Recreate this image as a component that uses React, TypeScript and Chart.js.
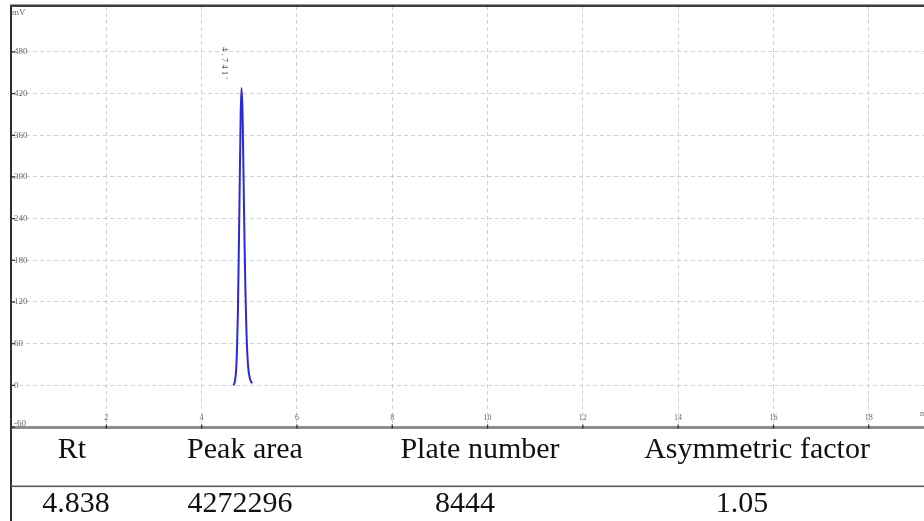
import React, { useEffect, useRef } from "react";
import { Chart, registerables } from "chart.js";

Chart.register(...registerables);

// ---- data ----
const retentionTimes = [4.67, 4.7, 4.72, 4.74, 4.76, 4.78, 4.8, 4.82, 4.838, 4.86, 4.88, 4.9, 4.92, 4.94, 4.96, 4.98, 5.01, 5.04, 5.06];
const signalMV = [0, 6, 18, 45, 100, 190, 290, 390, 428, 390, 300, 210, 135, 80, 45, 24, 11, 5, 3];
const xTickValues = [2, 4, 6, 8, 10, 12, 14, 16, 18];
const yTickValues = [-60, 0, 60, 120, 180, 240, 300, 360, 420, 480];
const yUnit = "mV";
const xUnit = "min";
const peakLabel = "4.741";
const peakLabelTime = 4.838;
const peakLabelValue = 428;
const tableHeaders = ["Rt", "Peak area", "Plate number", "Asymmetric factor"];
const tableValues = ["4.838", "4272296", "8444", "1.05"];
const headerCenters = [72, 245, 480, 757];
const valueCenters = [76, 240, 465, 742];

const X_MIN = 0;
const X_MAX = 19.16;
const Y_MIN = -60;
const Y_MAX = 546;

const decorPlugin = {
  id: "decor",
  afterDraw(chart: any) {
    const { ctx, chartArea: a, scales } = chart;
    const x = scales.x;
    const y = scales.y;
    const W = chart.width;
    const H = chart.height;
    ctx.save();

    // top frame
    ctx.fillStyle = "#3c3c3c";
    ctx.fillRect(a.left - 1, a.top - 1.5, W - a.left + 1, 2.5);

    // table lines
    ctx.fillStyle = "#2e2e2e";
    ctx.fillRect(a.left - 1, a.bottom, 2, H - a.bottom);
    ctx.fillStyle = "#5a5a5a";
    ctx.fillRect(a.left, 485.5, W - a.left, 1.6);

    // y tick labels and marks
    ctx.font = '9px "Liberation Serif"';
    ctx.textAlign = "left";
    ctx.textBaseline = "middle";
    yTickValues.forEach((v) => {
      const py = y.getPixelForValue(v);
      ctx.fillStyle = "#333";
      ctx.fillRect(a.left, py - 0.6, 4, 1.3);
      ctx.fillStyle = "#666";
      ctx.fillText(String(v), a.left + 3, py - (v === -60 ? 3 : 0));
    });
    ctx.fillStyle = "#666";
    ctx.fillText(yUnit, a.left + 1, a.top + 7);

    // x tick labels and marks
    ctx.textAlign = "center";
    ctx.textBaseline = "alphabetic";
    ctx.font = '8px "Liberation Serif"';
    xTickValues.forEach((v) => {
      const px = x.getPixelForValue(v);
      ctx.fillStyle = "#333";
      ctx.fillRect(px - 0.6, a.bottom - 2.5, 1.3, 4);
      ctx.fillStyle = "#666";
      ctx.fillText(String(v), px, a.bottom - 7);
    });
    ctx.textAlign = "left";
    ctx.fillText(xUnit, W - 4, a.bottom - 11);

    // peak label (rotated)
    const lx = x.getPixelForValue(peakLabelTime) - 17;
    const ly = y.getPixelForValue(peakLabelValue) - 41;
    ctx.translate(lx, ly);
    ctx.rotate(Math.PI / 2);
    ctx.font = '8px "Liberation Serif"';
    ctx.fillStyle = "#444";
    ctx.textAlign = "left";
    ctx.textBaseline = "middle";
    (ctx as any).letterSpacing = "2.5px";
    ctx.fillText(peakLabel + "'", 0, 0);
    ctx.restore();
  },
};

export default function App() {
  const canvasRef = useRef<HTMLCanvasElement | null>(null);

  useEffect(() => {
    const canvas = canvasRef.current;
    if (!canvas) return;
    const chart = new Chart(canvas, {
      type: "line",
      data: {
        datasets: [
          {
            data: retentionTimes.map((t, i) => ({ x: t, y: signalMV[i] })),
            borderColor: "#2a2ad8",
            borderWidth: 2,
            pointRadius: 0,
            cubicInterpolationMode: "monotone",
            fill: false,
          },
        ],
      },
      options: {
        responsive: false,
        animation: false,
        devicePixelRatio: 1,
        layout: { padding: { left: 11, top: 6, right: 0, bottom: 94 } },
        plugins: { legend: { display: false }, tooltip: { enabled: false } },
        scales: {
          x: {
            type: "linear",
            min: X_MIN,
            max: X_MAX,
            afterBuildTicks: (scale: any) => {
              scale.ticks = xTickValues.map((v) => ({ value: v }));
            },
            ticks: { display: false },
            grid: { color: "#d2d2d2", lineWidth: 1, drawTicks: false },
            border: { display: true, color: "#8e8e8e", width: 3, dash: [4, 3] },
          },
          y: {
            type: "linear",
            min: Y_MIN,
            max: Y_MAX,
            afterBuildTicks: (scale: any) => {
              scale.ticks = yTickValues.map((v) => ({ value: v }));
            },
            ticks: { display: false },
            grid: {
              color: (c: any) => (c.tick && c.tick.value === -60 ? "rgba(0,0,0,0)" : "#d2d2d2"),
              lineWidth: 1,
              drawTicks: false,
            },
            border: { display: true, color: "#2e2e2e", width: 2, dash: [4, 3] },
          },
        },
      },
      plugins: [decorPlugin],
    } as any);
    return () => chart.destroy();
  }, []);

  const textStyle = (center: number, top: number): React.CSSProperties => ({
    position: "absolute",
    left: center,
    top,
    transform: "translateX(-50%)",
    fontFamily: '"Liberation Serif", "Times New Roman", serif',
    fontSize: 30,
    lineHeight: "30px",
    whiteSpace: "nowrap",
    color: "#111",
  });

  return (
    <div style={{ position: "fixed", left: 0, top: 0, width: 924, height: 521, background: "#fff", overflow: "hidden" }}>
      <canvas ref={canvasRef} width={924} height={521} style={{ display: "block" }} />
      {tableHeaders.map((h, i) => (
        <div key={"h" + i} style={textStyle(headerCenters[i], 433)}>
          {h}
        </div>
      ))}
      {tableValues.map((v, i) => (
        <div key={"v" + i} style={textStyle(valueCenters[i], 487)}>
          {v}
        </div>
      ))}
    </div>
  );
}
